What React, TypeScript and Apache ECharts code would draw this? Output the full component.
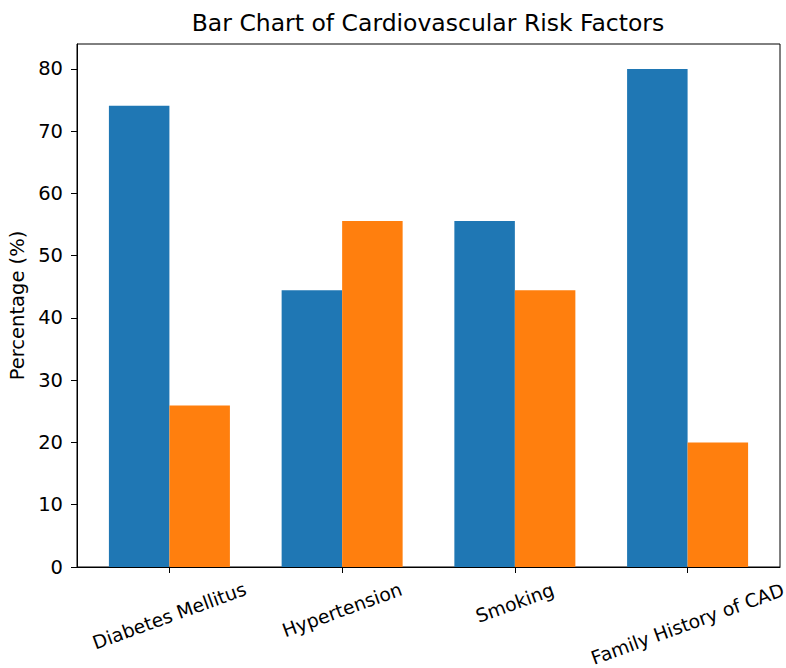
import React, { useEffect, useRef } from "react";
import * as echarts from "echarts";

const categories = ["Diabetes Mellitus", "Hypertension", "Smoking", "Family History of CAD"];
const seriesA = [74.07, 44.44, 55.56, 80.0];
const seriesB = [25.93, 55.56, 44.44, 20.0];
const yTicks = [0, 10, 20, 30, 40, 50, 60, 70, 80];
const xPositions = [0, 1, 2, 3];

const FONT = "DejaVu Sans";
const labelMargins = [49, 43, 36, 57];

export default function App() {
  const ref = useRef<HTMLDivElement>(null);
  useEffect(() => {
    if (!ref.current) return;
    const chart = echarts.init(ref.current, null, { renderer: "svg" });
    const xMin = -0.535;
    const xMax = 3.535;
    const labelAxes = xPositions.map((p, i) => ({
      type: "value",
      gridIndex: 0,
      position: "bottom",
      min: xMin,
      max: xMax,
      axisLine: { show: false, onZero: false },
      axisTick: { show: false },
      splitLine: { show: false },
      axisLabel: {
        customValues: [p],
        formatter: (v: number) => categories[Math.round(v)] ?? "",
        rotate: 20,
        align: "center",
        verticalAlign: "middle",
        margin: labelMargins[i],
        fontFamily: FONT,
        fontSize: 18.8,
        color: "#000",
      },
    }));
    chart.setOption({
      animation: false,
      backgroundColor: "#fff",
      title: {
        text: "Bar Chart of Cardiovascular Risk Factors",
        left: 423,
        top: 6,
        textAlign: "center",
        textStyle: { fontFamily: FONT, fontSize: 23.5, fontWeight: "normal", color: "#000" },
      },
      grid: {
        left: 77,
        right: 6,
        top: 44,
        bottom: 101,
        show: true,
        borderColor: "#000",
        borderWidth: 1,
        outerBoundsMode: "none",
      },
      xAxis: [
        {
          type: "value",
          gridIndex: 0,
          position: "bottom",
          min: xMin,
          max: xMax,
          axisLine: { show: true, onZero: false, lineStyle: { color: "#000", width: 1 } },
          axisTick: { show: true, customValues: xPositions, length: 6, lineStyle: { color: "#000" } },
          splitLine: { show: false },
          axisLabel: { show: false, customValues: xPositions },
        },
        ...labelAxes,
      ],
      yAxis: {
        type: "value",
        position: "left",
        min: 0,
        max: 84,
        name: "Percentage (%)",
        nameLocation: "middle",
        nameGap: 50,
        nameTextStyle: { fontFamily: FONT, fontSize: 19.5, color: "#000" },
        axisLine: { show: true, onZero: false, lineStyle: { color: "#000", width: 1 } },
        axisTick: { show: true, customValues: yTicks, length: 6, lineStyle: { color: "#000" } },
        splitLine: { show: false },
        axisLabel: { customValues: yTicks, margin: 14, fontFamily: FONT, fontSize: 19.5, color: "#000" },
      },
      series: [
        {
          name: "Present",
          type: "bar",
          xAxisIndex: 0,
          barWidth: 60.5,
          barGap: "0%",
          itemStyle: { color: "#1f77b4" },
          data: xPositions.map((x, i) => [x, seriesA[i]]),
        },
        {
          name: "Absent",
          type: "bar",
          xAxisIndex: 0,
          barWidth: 60.5,
          barGap: "0%",
          itemStyle: { color: "#ff7f0e" },
          data: xPositions.map((x, i) => [x, seriesB[i]]),
        },
      ],
    });
    return () => chart.dispose();
  }, []);
  return (
    <div
      ref={ref}
      style={{ position: "fixed", left: 0, top: 0, width: 786, height: 668, background: "#fff" }}
    />
  );
}
